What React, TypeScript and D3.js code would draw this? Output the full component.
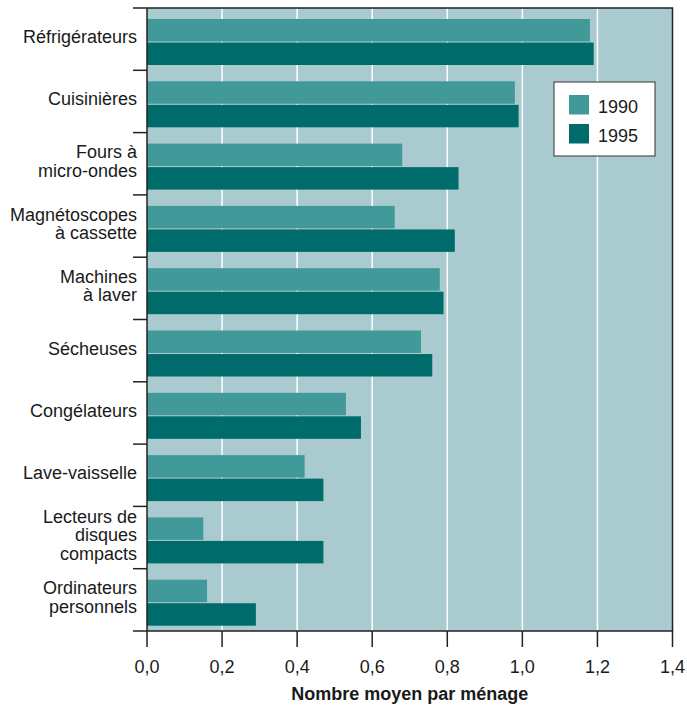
import { useEffect, useRef } from "react";
import * as d3 from "d3";

const categories = [
  "Réfrigérateurs",
  "Cuisinières",
  "Fours à\nmicro-ondes",
  "Magnétoscopes\nà cassette",
  "Machines\nà laver",
  "Sécheuses",
  "Congélateurs",
  "Lave-vaisselle",
  "Lecteurs de\ndisques\ncompacts",
  "Ordinateurs\npersonnels",
];
const series = ["1990", "1995"];
const values1990 = [1.18, 0.98, 0.68, 0.66, 0.78, 0.73, 0.53, 0.42, 0.15, 0.16];
const values1995 = [1.19, 0.99, 0.83, 0.82, 0.79, 0.76, 0.57, 0.47, 0.47, 0.29];
const xTicks = [0, 0.2, 0.4, 0.6, 0.8, 1.0, 1.2, 1.4];
const colors = ["#42999a", "#006b6b"];

const W = 687;
const H = 709;
const margin = { top: 8, right: 14.5, bottom: 78, left: 147 };
const FONT = "'Liberation Sans', Arial, Helvetica, sans-serif";

const App = () => {
  const svgRef = useRef<SVGSVGElement | null>(null);

  useEffect(() => {
    const svg = d3.select(svgRef.current);
    svg.selectAll("*").remove();

    const plotW = W - margin.left - margin.right;
    const plotH = H - margin.top - margin.bottom;

    const x = d3.scaleLinear().domain([0, 1.4]).range([0, plotW]);
    const y = d3.scaleBand().domain(categories).range([0, plotH]);
    const inner = d3
      .scaleBand()
      .domain(series)
      .range([11, 57])
      .paddingInner(0.045);

    const g = svg
      .append("g")
      .attr("transform", `translate(${margin.left},${margin.top})`);

    g.append("rect")
      .attr("width", plotW)
      .attr("height", plotH)
      .attr("fill", "#a9cbcf");

    // white gridlines
    g.selectAll(".grid")
      .data(xTicks.slice(1, -1))
      .enter()
      .append("line")
      .attr("x1", (d) => x(d))
      .attr("x2", (d) => x(d))
      .attr("y1", 0)
      .attr("y2", plotH)
      .attr("stroke", "#ffffff")
      .attr("stroke-width", 1.5);

    const rows = categories.map((c, i) => ({
      c,
      vals: [values1990[i], values1995[i]],
    }));

    const row = g
      .selectAll(".row")
      .data(rows)
      .enter()
      .append("g")
      .attr("transform", (d) => `translate(0,${y(d.c)})`);

    row
      .selectAll("rect")
      .data((d) => d.vals.map((v, i) => ({ v, s: series[i], i })))
      .enter()
      .append("rect")
      .attr("x", 0)
      .attr("y", (d) => inner(d.s) as number)
      .attr("width", (d) => x(d.v))
      .attr("height", inner.bandwidth())
      .attr("fill", (d) => colors[d.i]);

    // frame
    g.append("rect")
      .attr("width", plotW)
      .attr("height", plotH)
      .attr("fill", "none")
      .attr("stroke", "#222")
      .attr("stroke-width", 1.5);

    // y ticks at band boundaries
    const bounds = d3.range(categories.length + 1).map((i) => i * y.step());
    g.selectAll(".ytick")
      .data(bounds)
      .enter()
      .append("line")
      .attr("x1", -14)
      .attr("x2", 0)
      .attr("y1", (d) => d)
      .attr("y2", (d) => d)
      .attr("stroke", "#222")
      .attr("stroke-width", 1.5);

    // category labels
    const lh = 18.5;
    row.each(function (d) {
      const lines = d.c.split("\n");
      const t = d3
        .select(this)
        .append("text")
        .attr("text-anchor", "end")
        .attr("font-family", FONT)
        .attr("font-size", 18)
        .attr("fill", "#1a1a1a");
      lines.forEach((l, k) => {
        t.append("tspan")
          .attr("x", -10)
          .attr("y", 35 + (k - (lines.length - 1) / 2) * lh)
          .text(l);
      });
    });

    // x axis
    const xa = g.append("g").attr("transform", `translate(0,${plotH})`);
    xa.selectAll("line")
      .data(xTicks)
      .enter()
      .append("line")
      .attr("x1", (d) => x(d))
      .attr("x2", (d) => x(d))
      .attr("y1", 0)
      .attr("y2", 16)
      .attr("stroke", "#222")
      .attr("stroke-width", 1.5);
    xa.selectAll("text")
      .data(xTicks)
      .enter()
      .append("text")
      .attr("x", (d) => x(d))
      .attr("y", 42)
      .attr("text-anchor", "middle")
      .attr("font-family", FONT)
      .attr("font-size", 18)
      .attr("fill", "#1a1a1a")
      .text((d) => d3.format(".1f")(d).replace(".", ","));

    g.append("text")
      .attr("x", plotW / 2)
      .attr("y", plotH + 69)
      .attr("text-anchor", "middle")
      .attr("font-family", FONT)
      .attr("font-size", 18)
      .attr("font-weight", "bold")
      .attr("fill", "#1a1a1a")
      .text("Nombre moyen par ménage");

    // legend
    const lg = svg.append("g").attr("transform", "translate(554,82)");
    lg.append("rect")
      .attr("width", 101)
      .attr("height", 74)
      .attr("fill", "#ffffff")
      .attr("stroke", "#333")
      .attr("stroke-width", 1);
    series.forEach((s, i) => {
      lg.append("rect")
        .attr("x", 15)
        .attr("y", 13 + i * 29)
        .attr("width", 20)
        .attr("height", 19.5)
        .attr("fill", colors[i]);
      lg.append("text")
        .attr("x", 44)
        .attr("y", 31 + i * 29)
        .attr("font-family", FONT)
        .attr("font-size", 18)
        .attr("fill", "#1a1a1a")
        .text(s);
    });
  }, []);

  return (
    <svg
      ref={svgRef}
      width={W}
      height={H}
      style={{ position: "absolute", left: 0, top: 0, background: "#fff" }}
    ></svg>
  );
};

export default App;
